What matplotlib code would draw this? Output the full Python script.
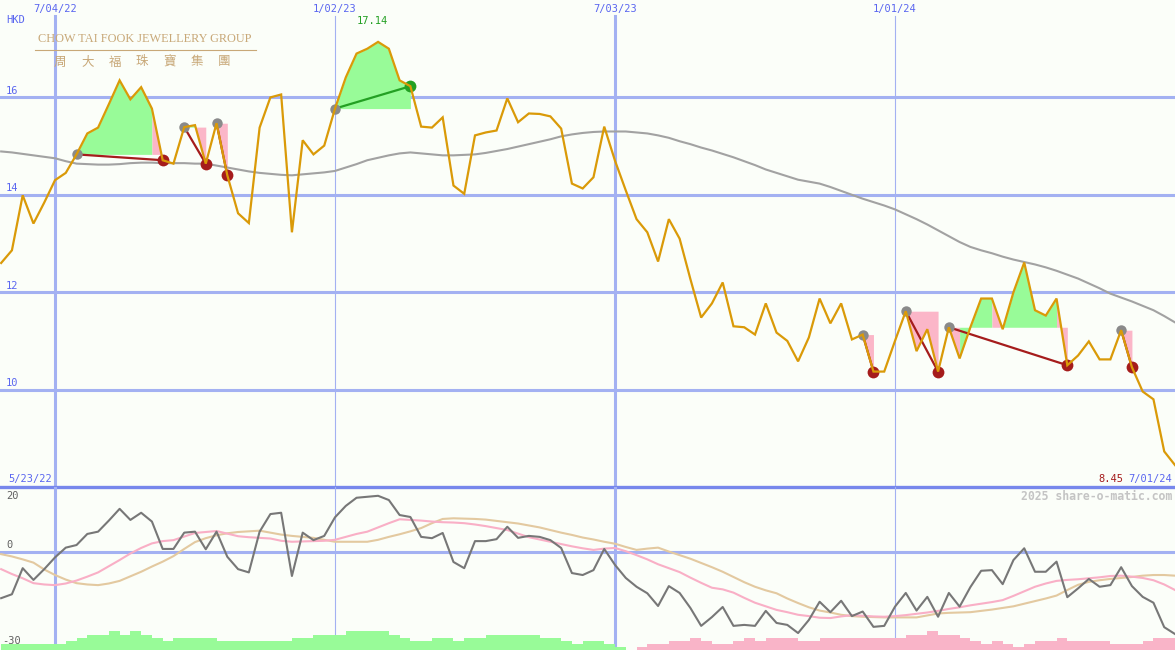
import numpy as np
import matplotlib
matplotlib.use("Agg")
import matplotlib.pyplot as plt
import matplotlib.dates as mdates
from matplotlib.lines import Line2D
from itertools import groupby

# weekly data, week of 2022-05-30 .. week of 2024-07-01
weeks = np.arange(np.datetime64("2022-05-30"), np.datetime64("2024-07-08"), np.timedelta64(7, "D"))

price = [12.60, 12.86, 13.99, 13.41, 13.84, 14.30, 14.45, 14.83, 15.26, 15.38,
         15.86, 16.35, 15.96, 16.21, 15.77, 14.71, 14.64, 15.39, 15.43, 14.64,
         15.47, 14.40, 13.62, 13.42, 15.38, 16.00, 16.06, 13.23, 15.12, 14.83,
         15.01, 15.77, 16.41, 16.90, 17.00, 17.14, 17.00, 16.35, 16.23, 15.40,
         15.38, 15.59, 14.19, 14.02, 15.22, 15.28, 15.32, 15.98, 15.49, 15.67,
         15.66, 15.61, 15.36, 14.23, 14.13, 14.36, 15.40, 14.70, 14.09, 13.50,
         13.23, 12.63, 13.50, 13.10, 12.27, 11.48, 11.77, 12.20, 11.30, 11.28,
         11.13, 11.77, 11.17, 11.00, 10.58, 11.07, 11.87, 11.36, 11.77, 11.03,
         11.13, 10.37, 10.37, 11.00, 11.61, 10.79, 11.24, 10.37, 11.28, 10.64,
         11.28, 11.87, 11.87, 11.24, 12.00, 12.61, 11.63, 11.52, 11.87, 10.50,
         10.70, 10.99, 10.62, 10.62, 11.22, 10.46, 9.96, 9.80, 8.73, 8.45]

moving_avg = [14.89, 14.87, 14.84, 14.81, 14.78, 14.75, 14.69, 14.64, 14.63, 14.62,
              14.62, 14.63, 14.65, 14.66, 14.66, 14.65, 14.65, 14.65, 14.64, 14.64,
              14.60, 14.56, 14.52, 14.48, 14.45, 14.43, 14.41, 14.40, 14.42, 14.44,
              14.46, 14.49, 14.56, 14.63, 14.71, 14.76, 14.81, 14.85, 14.87, 14.85,
              14.83, 14.81, 14.81, 14.82, 14.83, 14.86, 14.90, 14.94, 14.99, 15.04,
              15.09, 15.14, 15.20, 15.24, 15.27, 15.29, 15.30, 15.30, 15.30, 15.28,
              15.26, 15.22, 15.17, 15.10, 15.04, 14.97, 14.91, 14.84, 14.77, 14.69,
              14.61, 14.52, 14.45, 14.38, 14.31, 14.27, 14.23, 14.16, 14.08, 14.00,
              13.92, 13.85, 13.78, 13.70, 13.60, 13.50, 13.39, 13.27, 13.15, 13.03,
              12.93, 12.86, 12.80, 12.73, 12.67, 12.62, 12.57, 12.51, 12.44, 12.36,
              12.28, 12.18, 12.08, 11.97, 11.89, 11.81, 11.72, 11.63, 11.51, 11.38]

oscillator = [-14.1, -12.9, -4.9, -8.5, -5.2, -1.6, 1.4, 2.2, 5.6, 6.3,
              9.7, 13.3, 9.9, 12.1, 9.4, 1.0, 1.0, 6.0, 6.3, 0.9,
              6.3, -1.4, -5.2, -6.2, 6.3, 11.7, 12.1, -7.3, 6.0, 3.7,
              5.0, 10.7, 14.2, 16.7, 17.0, 17.3, 16.0, 11.4, 10.8, 4.7,
              4.3, 5.9, -3.0, -4.9, 3.4, 3.4, 4.0, 7.8, 4.4, 5.0,
              4.7, 3.7, 1.3, -6.4, -7.0, -5.5, 1.0, -3.9, -7.9, -10.6,
              -12.6, -16.5, -10.4, -12.5, -17.1, -22.6, -19.9, -16.8, -22.6, -22.3,
              -22.6, -18.0, -21.7, -22.3, -24.8, -20.8, -15.2, -18.4, -14.9, -19.6,
              -18.2, -22.9, -22.6, -16.7, -12.5, -17.9, -13.7, -19.8, -12.5, -16.7,
              -10.7, -5.7, -5.5, -9.8, -2.4, 1.2, -6.0, -6.0, -2.9, -13.8,
              -11.1, -8.2, -10.6, -10.1, -4.6, -10.4, -13.7, -15.5, -23.0, -25.1]

signal_fast = [-5.2, -6.7, -8.0, -9.5, -9.9, -10.1, -9.6, -8.7, -7.5, -6.2,
               -4.3, -2.4, -0.4, 1.3, 2.7, 3.4, 3.7, 4.8, 5.9, 6.2,
               6.5, 5.7, 4.9, 4.6, 4.4, 4.2, 3.5, 3.2, 3.3, 3.4,
               3.5, 3.8, 4.7, 5.6, 6.3, 7.6, 8.9, 10.1, 9.9, 9.7,
               9.4, 9.2, 9.1, 8.9, 8.5, 8.0, 7.4, 6.8, 5.7, 4.6,
               3.9, 3.2, 2.5, 1.8, 1.2, 0.7, 1.1, 1.3, 0.3, -0.9,
               -2.2, -3.7, -4.9, -6.1, -7.8, -9.4, -10.9, -11.4, -12.4, -14.0,
               -15.5, -16.6, -17.7, -18.4, -19.2, -19.6, -20.1, -20.2, -19.7, -19.3,
               -19.5, -19.7, -19.8, -19.6, -19.3, -18.9, -18.5, -18.0, -17.4, -16.9,
               -16.3, -15.8, -15.3, -14.7, -13.4, -12.0, -10.6, -9.6, -8.8, -8.5,
               -8.3, -8.0, -7.7, -7.3, -7.2, -7.5, -7.9, -8.6, -9.9, -11.6]

signal_slow = [-0.6, -1.3, -2.2, -3.2, -5.3, -7.0, -8.4, -9.5, -9.9, -10.1,
               -9.6, -8.8, -7.4, -6.0, -4.4, -2.9, -1.2, 1.0, 3.1, 4.3,
               5.2, 5.8, 6.2, 6.4, 6.6, 6.0, 5.4, 5.0, 4.7, 4.4,
               3.8, 3.2, 3.2, 3.2, 3.2, 3.8, 4.7, 5.5, 6.4, 7.4,
               8.9, 10.2, 10.4, 10.3, 10.2, 10.0, 9.6, 9.2, 8.8, 8.2,
               7.6, 6.8, 6.0, 5.3, 4.5, 3.9, 3.2, 2.6, 1.6, 0.7,
               1.1, 1.4, 0.2, -0.9, -2.0, -3.3, -4.6, -6.0, -7.6, -9.2,
               -10.6, -11.7, -12.6, -14.2, -15.6, -16.9, -17.9, -18.5, -19.2, -19.6,
               -19.8, -19.9, -20.0, -20.0, -20.0, -20.0, -19.4, -18.8, -18.6, -18.5,
               -18.4, -18.0, -17.6, -17.1, -16.6, -15.8, -15.0, -14.2, -13.3, -11.6,
               -10.0, -9.1, -8.6, -8.2, -7.9, -7.6, -7.2, -7.0, -7.0, -7.2]

# histogram under the oscillator: + green, - pink
momentum_bars = [2, 2, 2, 2, 2, 2, 3, 4, 5, 5,
                 6.3, 5, 6.3, 5, 4, 3, 4, 4, 4, 4,
                 3, 3, 3, 3, 3, 3, 3, 4, 4, 5,
                 5, 5, 6.3, 6.3, 6.3, 6.3, 5, 4, 3, 3,
                 4, 4, 3, 4, 4, 5, 5, 5, 5, 5,
                 4, 4, 3, 2, 3, 3, 2, 1, 0, -1,
                 -2, -2, -3, -3, -4, -3, -2, -2, -3, -4,
                 -3, -4, -4, -4, -3, -3, -4, -4, -4, -4,
                 -4, -4, -4, -4, -5, -5, -6.3, -5, -5, -4,
                 -3, -2, -3, -2, -1, -2, -3, -3, -4, -3,
                 -3, -3, -3, -2, -2, -2, -3, -4, -4, 0]

# (start week index, end week index, colour of each weekly step, outcome)
patterns = [
    (7, 15, "gggggggp", "loss"),
    (17, 19, "gp", "loss"),
    (20, 21, "p", "loss"),
    (31, 38, "ggggggg", "gain"),
    (80, 81, "p", "loss"),
    (84, 87, "ppp", "loss"),
    (88, 99, "pgggpgggggp", "loss"),
    (104, 105, "p", "loss"),
]

grid_dates = ["2022-07-04", "2023-01-02", "2023-07-03", "2024-01-01"]
grid_labels = ["7/04/22", "1/02/23", "7/03/23", "1/01/24"]
grid_thick = [True, False, True, False]
price_ticks = [16, 14, 12, 10]
osc_labels = [("20", 20), ("0", 0), ("-30", -30)]

BG = "#FBFEF9"
GRID = "#A3B1F2"
BORDER = "#7787EC"
LABEL = "#5A66F0"
PRICE = "#DA9A08"
MA = "#A2A2A2"
GFILL = "#98FB98"
PFILL = "#FBB6C8"
RED = "#A51C1C"
GREEN = "#23A023"
TAN = "#C8A878"
MONO = "DejaVu Sans Mono"

W, H = 1175, 650
fig = plt.figure(figsize=(W / 100, H / 100), dpi=100, facecolor=BG)
ax = fig.add_axes([0, 163 / H, 1, 487 / H])
low = fig.add_axes([0, 0, 1, 163 / H])
bar_ax = low.twinx()
low.set_zorder(bar_ax.get_zorder() + 1)

t0 = mdates.date2num(np.datetime64("2022-07-04"))
x0, x1 = t0 - 35.75, t0 + 728
for a in (ax, low, bar_ax):
    a.set_xlim(x0, x1)
    a.set_axis_off()
ax.set_ylim(8, 18)
low.set_ylim(-30, 20)
bar_ax.set_ylim(0, 163 / 3)

dates = mdates.date2num(weeks)
price = np.array(price)

# grid
for v in price_ticks:
    ax.axhline(v, color=GRID, lw=2.2, zorder=0)
    ax.text(6 / W, v + 0.13, str(v), transform=ax.get_yaxis_transform(),
            color=LABEL, fontsize=7.5, family=MONO, va="center", ha="left")
for d, lab, thick in zip(grid_dates, grid_labels, grid_thick):
    xd = mdates.date2num(np.datetime64(d))
    lw = 2.2 if thick else 0.8
    ax.axvline(xd, ymax=1 - 16 / 487, color=GRID, lw=lw, zorder=0)
    bar_ax.axvline(xd, color=GRID, lw=lw, zorder=0)
    ax.text(xd, 1 - 9 / 487, lab, transform=ax.get_xaxis_transform(),
            color=LABEL, fontsize=7.5, family=MONO, ha="center", va="center")
ax.axhline(8, color=BORDER, lw=2.4, zorder=5, clip_on=False)
low.axhline(0, color=GRID, lw=2.2, zorder=0)

# pattern fills (one polygon per run of same-coloured weeks) and markers
for s, e, cols, outcome in patterns:
    base = price[s]
    i = s
    for c, run in groupby(cols):
        n = len(list(run))
        ax.fill_between(dates[i:i + n + 1], base, price[i:i + n + 1],
                        color=GFILL if c == "g" else PFILL, lw=0, zorder=1)
        i += n
for s, e, cols, outcome in patterns:
    end_col = GREEN if outcome == "gain" else RED
    ax.plot([dates[s], dates[e]], [price[s], price[e]], color=end_col, lw=1.6, zorder=3)
    ax.plot(dates[s], price[s], "o", color="#8A8A8A", ms=7.5, mec="none", zorder=3)
    ax.plot(dates[e], price[e], "o", color=end_col, ms=8.5, mec="none", zorder=3)

ax.plot(dates, moving_avg, color=MA, lw=1.5, zorder=2)
ax.plot(dates, price, color=PRICE, lw=1.6, zorder=4, solid_joinstyle="miter")

# lower panel
bar_vals = np.array(momentum_bars)
bar_ax.bar(dates, np.abs(bar_vals), width=7, align="edge", lw=0, zorder=1,
           color=[GFILL if v > 0 else "#F9B4C8" for v in bar_vals])
low.plot(dates, signal_slow, color="#E3C9A0", lw=1.5, zorder=2)
low.plot(dates, signal_fast, color="#F9AFC6", lw=1.5, zorder=2)
low.plot(dates, oscillator, color="#777777", lw=1.5, zorder=3)

# texts
def ftext(x, y, s, **kw):
    kw.setdefault("family", MONO)
    kw.setdefault("fontsize", 7.5)
    kw.setdefault("va", "center")
    fig.text(x / W, 1 - y / H, s, **kw)

ftext(6, 20, "HKD", color=LABEL)
ftext(8, 479, "5/23/22", color=LABEL)
ftext(1172, 479, "7/01/24", color=LABEL, ha="right")
ftext(1123, 479, "%.2f" % price[-1], color=RED, ha="right")
ftext(372, 21, "%.2f" % price.max(), color=GREEN, ha="center")
ftext(1172, 496, "2025 share-o-matic.com", color="#C4C4C4", ha="right",
      fontsize=8.3, fontweight="bold")
for lab, v in osc_labels:
    yy = 487 + (20 - v) * 163 / 50
    yy = min(max(yy, 496), 641)
    if v == 0:
        yy -= 7
    ftext(2 if lab.startswith("-") else 6, yy, lab, color="#606060")

# company logo
ftext(145, 39, "CHOW TAI FOOK JEWELLERY GROUP", color=TAN, ha="center",
      family="Liberation Serif", fontsize=8.8)
fig.add_artist(Line2D([35 / W, 256 / W], [1 - 50 / H, 1 - 50 / H], color=TAN, lw=0.8))
for i, ch in enumerate("周大福珠寶集團"):
    ftext(60 + i * 27.3, 62, ch, color=TAN, ha="center",
          family=["Noto Sans CJK TC", "DejaVu Sans"], fontsize=9)

fig.savefig("out.png", dpi=100, facecolor=BG)
